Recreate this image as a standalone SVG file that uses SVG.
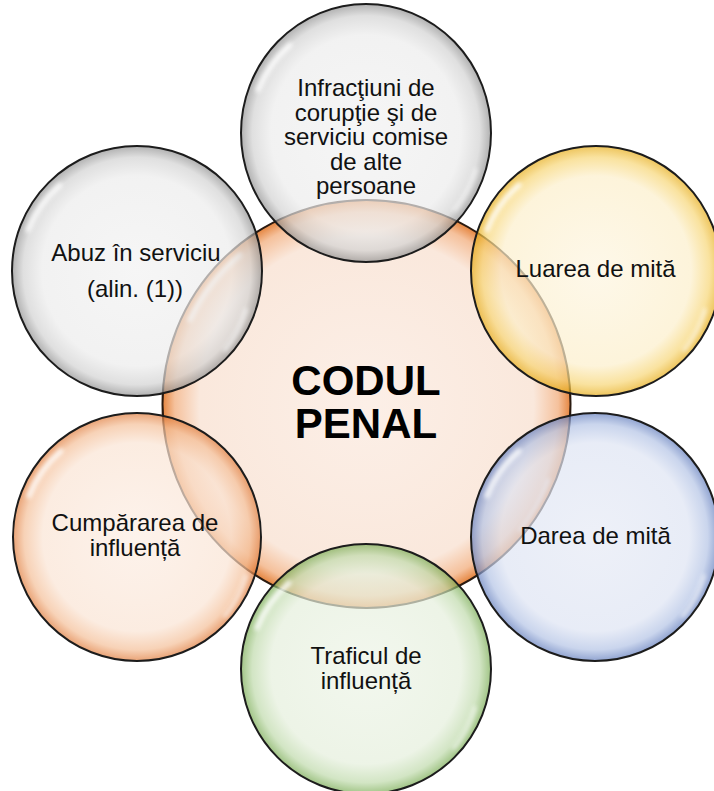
<svg xmlns="http://www.w3.org/2000/svg" width="714" height="791" viewBox="0 0 714 791">
<defs>
<radialGradient id="gGray" cx="50%" cy="50%" r="50%">
<stop offset="0" stop-color="#f2f2f2"/><stop offset="0.76" stop-color="#ececec"/><stop offset="0.91" stop-color="#d2d2d2"/><stop offset="1" stop-color="#909090"/>
</radialGradient>
<radialGradient id="gYellow" cx="50%" cy="50%" r="50%">
<stop offset="0" stop-color="#fdf5e0"/><stop offset="0.76" stop-color="#fcefcb"/><stop offset="0.91" stop-color="#f7d676"/><stop offset="1" stop-color="#e6ac18"/>
</radialGradient>
<radialGradient id="gBlue" cx="50%" cy="50%" r="50%">
<stop offset="0" stop-color="#e6eaf5"/><stop offset="0.76" stop-color="#dee4f3"/><stop offset="0.91" stop-color="#b3c3e5"/><stop offset="1" stop-color="#627dbd"/>
</radialGradient>
<radialGradient id="gGreen" cx="50%" cy="50%" r="50%">
<stop offset="0" stop-color="#edf4e7"/><stop offset="0.76" stop-color="#e5efdc"/><stop offset="0.91" stop-color="#bfdaab"/><stop offset="1" stop-color="#78ab52"/>
</radialGradient>
<radialGradient id="gOrange" cx="50%" cy="50%" r="50%">
<stop offset="0" stop-color="#fcede3"/><stop offset="0.76" stop-color="#fae4d4"/><stop offset="0.91" stop-color="#f4bf98"/><stop offset="1" stop-color="#e07c3c"/>
</radialGradient>
<radialGradient id="gCenter" cx="50%" cy="50%" r="50%">
<stop offset="0" stop-color="#fcefe7"/><stop offset="0.82" stop-color="#fae8dc"/><stop offset="0.94" stop-color="#f5c19c"/><stop offset="1" stop-color="#e5853f"/>
</radialGradient>
<filter id="blur" x="-20%" y="-20%" width="140%" height="140%"><feGaussianBlur stdDeviation="2"/></filter>
</defs>
<style>
.bub{stroke:#1c1c1c;stroke-width:2;fill-opacity:0.7}
.ctr{stroke:#2a1a10;stroke-width:2}
.hl{fill:none;stroke:#ffffff;stroke-width:5;stroke-linecap:round;opacity:0.85;filter:url(#blur)}
.hl2{fill:none;stroke:#ffffff;stroke-width:4;stroke-linecap:round;opacity:0.6;filter:url(#blur)}
text{font-family:"Liberation Sans",Arial,sans-serif;font-size:24px;fill:#111;text-anchor:middle}
.big{font-size:42px;font-weight:bold;fill:#000}
</style>
<g id="connectors"/>
<g id="node-center">
<circle class="ctr" cx="366.5" cy="404" r="204" fill="url(#gCenter)"/>
<path class="hl" d="M 190 320 A 190 190 0 0 1 240 255"/>
<path class="hl2" d="M 548 480 A 190 190 0 0 1 520 530"/>
<text class="big" x="366" y="395">CODUL</text>
<text class="big" x="366" y="438">PENAL</text>
</g>
<g id="node-top">
<ellipse class="bub" cx="366" cy="133" rx="125" ry="129" fill="url(#gGray)"/>
<path class="hl" d="M 258 90 A 115 118 0 0 1 290 45"/>
<path class="hl2" d="M 476 170 A 115 118 0 0 1 455 210"/>
<text x="366" y="96">Infracţiuni de</text>
<text x="366" y="120.5">corupţie şi de</text>
<text x="366" y="145">serviciu comise</text>
<text x="366" y="169.5">de alte</text>
<text x="366" y="194">persoane</text>
</g>
<g id="node-upper-left">
<circle class="bub" cx="137" cy="271" r="125" fill="url(#gGray)"/>
<path class="hl" d="M 28 230 A 115 115 0 0 1 60 185"/>
<path class="hl2" d="M 246 310 A 115 115 0 0 1 225 350"/>
<text x="136" y="261">Abuz în serviciu</text>
<text x="135" y="297">(alin. (1))</text>
</g>
<g id="node-upper-right">
<circle class="bub" cx="596" cy="271" r="125" fill="url(#gYellow)"/>
<path class="hl" d="M 487 230 A 115 115 0 0 1 519 185"/>
<path class="hl2" d="M 705 310 A 115 115 0 0 1 684 350"/>
<text x="595.5" y="277">Luarea de mită</text>
</g>
<g id="node-lower-right">
<circle class="bub" cx="595" cy="537" r="124" fill="url(#gBlue)"/>
<path class="hl" d="M 487 496 A 114 114 0 0 1 519 451"/>
<path class="hl2" d="M 704 576 A 114 114 0 0 1 683 616"/>
<text x="595.5" y="544">Darea de mită</text>
</g>
<g id="node-lower-left">
<circle class="bub" cx="137" cy="537" r="124" fill="url(#gOrange)"/>
<path class="hl" d="M 29 496 A 114 114 0 0 1 61 451"/>
<path class="hl2" d="M 246 576 A 114 114 0 0 1 225 616"/>
<text x="135" y="530.5">Cumpărarea de</text>
<text x="135" y="555.5">influență</text>
</g>
<g id="node-bottom">
<circle class="bub" cx="366" cy="669" r="125" fill="url(#gGreen)"/>
<path class="hl" d="M 257 628 A 115 115 0 0 1 289 583"/>
<path class="hl2" d="M 475 708 A 115 115 0 0 1 454 748"/>
<text x="366" y="663.5">Traficul de</text>
<text x="366" y="688.5">influență</text>
</g>
</svg>
